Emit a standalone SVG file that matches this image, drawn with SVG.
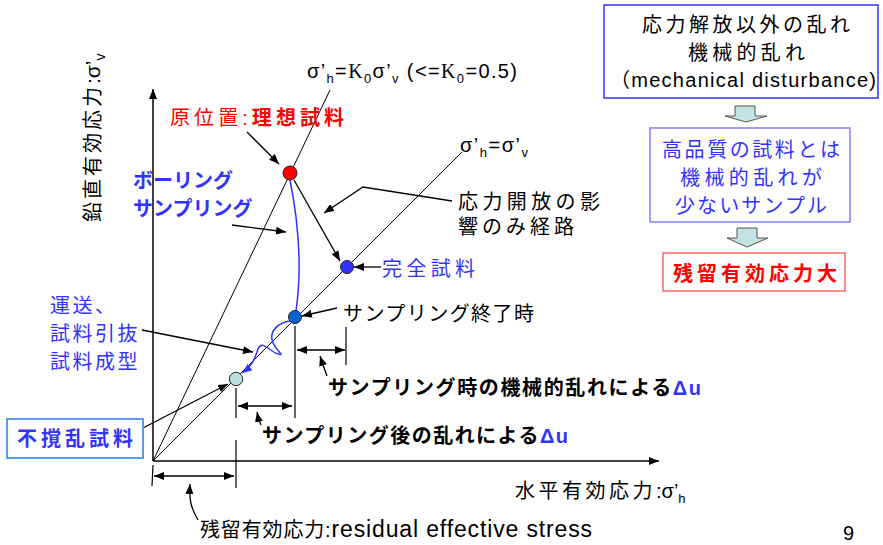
<svg xmlns="http://www.w3.org/2000/svg" width="883" height="545" viewBox="0 0 883 545">
<defs>
<style>
text{font-family:"Liberation Sans","Noto Sans CJK JP",sans-serif;font-size:20px;fill:#000}
.blue{fill:#3333FF}
.red{fill:#FF0000}
.b{font-weight:bold}
.ln{stroke:#000;stroke-width:1;fill:none}
.ld{stroke:#000;stroke-width:1.3;fill:none}
.tk{stroke:#000;stroke-width:1.2;fill:none}
.blk{fill:#C4E4E4;stroke:#555;stroke-width:1}
.pt{stroke:#222;stroke-width:1}
</style>
<marker id="ah" viewBox="0 0 10 8" refX="10" refY="4" markerWidth="10" markerHeight="8" markerUnits="userSpaceOnUse" orient="auto-start-reverse"><path d="M0,0 L10,4 L0,8 z" fill="#000"/></marker>
<marker id="ahb" viewBox="0 0 10 8" refX="10" refY="4" markerWidth="10" markerHeight="8" markerUnits="userSpaceOnUse" orient="auto"><path d="M0,0 L10,4 L0,8 z" fill="#3333FF"/></marker>
</defs>
<rect width="883" height="545" fill="#fff"/>

<g id="axes">
<line x1="153" y1="461" x2="153" y2="89" stroke="#000" stroke-width="1.5" marker-end="url(#ah)"/>
<line x1="153" y1="461" x2="659" y2="461" stroke="#404040" stroke-width="2" marker-end="url(#ah)"/>
<text transform="translate(100,222) rotate(-90)" font-size="20" letter-spacing="3">鉛直有効応力<tspan letter-spacing="0" font-size="21">:σ’</tspan><tspan dy="5" font-size="14" letter-spacing="0">v</tspan></text>
<text x="515" y="498" font-size="20" letter-spacing="3.5">水平有効応力<tspan letter-spacing="0">:σ’</tspan><tspan dy="5" font-size="13" letter-spacing="0">h</tspan></text>
</g>

<g id="reference-lines">
<line class="ln" x1="153" y1="461" x2="330" y2="90"/>
<line class="ln" x1="153" y1="461" x2="462" y2="152"/>
<text x="307" y="78" font-size="18" textLength="210" lengthAdjust="spacing">σ’<tspan dy="5" font-size="13">h</tspan><tspan dy="-5">=</tspan><tspan font-family="Liberation Serif">K</tspan><tspan dy="5" font-size="13">0</tspan><tspan dy="-5">σ’</tspan><tspan dy="5" font-size="13">v</tspan><tspan dy="-5"> (&lt;=</tspan><tspan font-family="Liberation Serif">K</tspan><tspan dy="5" font-size="13">0</tspan><tspan dy="-5">=0.5)</tspan></text>
<text x="460" y="152" font-size="18" textLength="68" lengthAdjust="spacing">σ’<tspan dy="5" font-size="13">h</tspan><tspan dy="-5">=σ’</tspan><tspan dy="5" font-size="13">v</tspan></text>
</g>

<g id="connectors">
<line class="ld" x1="247" y1="132" x2="279" y2="164" marker-end="url(#ah)"/>
<line class="ld" x1="232" y1="225" x2="286" y2="232" marker-end="url(#ah)"/>
<polyline class="ld" points="452,201 363,187 324,213" marker-end="url(#ah)"/>
<line class="ld" x1="294" y1="180" x2="340" y2="261" marker-end="url(#ah)"/>
<line class="ld" x1="381" y1="267" x2="354" y2="267" marker-end="url(#ah)"/>
<line class="ld" x1="337" y1="308" x2="302" y2="316" marker-end="url(#ah)"/>
<line class="ld" x1="142" y1="330" x2="253" y2="352" marker-end="url(#ah)"/>
<line class="ld" x1="143" y1="428" x2="228" y2="384" marker-end="url(#ah)"/>
<path d="M290,180 C297,215 303,262 296,311" fill="none" stroke="#3333FF" stroke-width="1.5"/>
<path d="M291,321 C279,322 268,331 273,343 C277,352 286,356 278,354 C270,352 262,339 258,349 C255,358 253,365 242,373" fill="none" stroke="#3333FF" stroke-width="1.5" marker-end="url(#ahb)"/>
<line class="tk" x1="295" y1="326" x2="295" y2="418"/>
<line class="tk" x1="346" y1="327" x2="346" y2="365"/>
<line class="tk" x1="236" y1="388" x2="236" y2="418"/>
<line class="tk" x1="236" y1="440" x2="236" y2="488"/>
<line class="tk" x1="153" y1="465" x2="152" y2="486"/>
<line class="ld" x1="297" y1="350" x2="345" y2="350" marker-start="url(#ah)" marker-end="url(#ah)"/>
<line class="ld" x1="238" y1="406" x2="292" y2="406" marker-start="url(#ah)" marker-end="url(#ah)"/>
<line class="ld" x1="154" y1="476" x2="234" y2="476" marker-start="url(#ah)" marker-end="url(#ah)"/>
<path class="ld" d="M327,376 C324,368 322,362 320,356" marker-end="url(#ah)"/>
<path class="ld" d="M261,425 C259,420 258,417 257,412" marker-end="url(#ah)"/>
<path class="ld" d="M198,520 C191,508 189,500 190,484" marker-end="url(#ah)"/>
</g>

<g id="node-ideal">
<circle class="pt" cx="290" cy="173" r="7" fill="#FF0000"/>
<text x="170" y="125" class="red" textLength="174" lengthAdjust="spacing">原位置:<tspan class="b">理想試料</tspan></text>
</g>

<g id="node-perfect">
<circle class="pt" cx="347" cy="267" r="6.5" fill="#3333FF"/>
<text x="382" y="276" class="blue" textLength="93" lengthAdjust="spacing">完全試料</text>
</g>

<g id="node-end">
<circle class="pt" cx="295" cy="317" r="6.5" fill="#0066CC"/>
<text x="343" y="321" textLength="191" lengthAdjust="spacing">サンプリング終了時</text>
</g>

<g id="node-undisturbed">
<circle class="pt" cx="236" cy="379" r="6.7" fill="#BFE0E0"/>
<rect x="7" y="419" width="136" height="39" fill="#fff" stroke="#5B9BEF" stroke-width="2"/>
<text x="17" y="446" class="blue b" textLength="116" lengthAdjust="spacing">不撹乱試料</text>
</g>

<g id="label-boring">
<text x="133" y="188" class="blue b">ボーリング</text>
<text x="133" y="216" class="blue b">サンプリング</text>
</g>

<g id="label-release">
<text x="458" y="209" textLength="142" lengthAdjust="spacing">応力開放の影</text>
<text x="458" y="234" textLength="116" lengthAdjust="spacing">響のみ経路</text>
</g>

<g id="label-transport">
<text x="50" y="313" class="blue" letter-spacing="2.5">運送、</text>
<text x="50" y="341" class="blue" letter-spacing="2.5">試料引抜</text>
<text x="50" y="369" class="blue" letter-spacing="2.5">試料成型</text>
</g>

<g id="label-du1">
<text x="328" y="395" class="b" font-size="21" textLength="373" lengthAdjust="spacing">サンプリング時の機械的乱れによる<tspan class="blue">Δu</tspan></text>
</g>
<g id="label-du2">
<text x="262" y="443" class="b" font-size="21" textLength="306" lengthAdjust="spacing">サンプリング後の乱れによる<tspan class="blue">Δu</tspan></text>
</g>
<g id="label-residual">
<text x="200" y="537" textLength="392" lengthAdjust="spacing">残留有効応力:<tspan font-size="23">residual effective stress</tspan></text>
</g>

<g id="box-mech">
<rect x="604" y="5" width="274" height="93" fill="#fff" stroke="#3333FF" stroke-width="1.5"/>
<text x="642" y="32" textLength="208" lengthAdjust="spacing">応力解放以外の乱れ</text>
<text x="688" y="60" textLength="117" lengthAdjust="spacing">機械的乱れ</text>
<text x="610" y="87" textLength="266" lengthAdjust="spacing">（mechanical disturbance)</text>
</g>
<g id="arrow-1">
<path class="blk" d="M735,106 H755 V116 H767 L746,122 L725,116 H735 Z"/>
</g>
<g id="box-quality">
<rect x="650" y="128" width="200" height="94" fill="#fff" stroke="#8080FF" stroke-width="1.5"/>
<text x="662" y="157" class="blue" textLength="178" lengthAdjust="spacing">高品質の試料とは</text>
<text x="680" y="185" class="blue" textLength="142" lengthAdjust="spacing">機械的乱れが</text>
<text x="675" y="213" class="blue" textLength="152" lengthAdjust="spacing">少ないサンプル</text>
</g>
<g id="arrow-2">
<path class="blk" d="M737,228 H757 V238 H768 L747,247 L727,238 H737 Z"/>
</g>
<g id="box-residual">
<rect x="663" y="253" width="182" height="38" fill="#fff" stroke="#FF4040" stroke-width="1.2"/>
<text x="673" y="281" class="red b" textLength="164" lengthAdjust="spacing">残留有効応力大</text>
</g>

<text x="843" y="540" font-size="12">9</text>
</svg>
